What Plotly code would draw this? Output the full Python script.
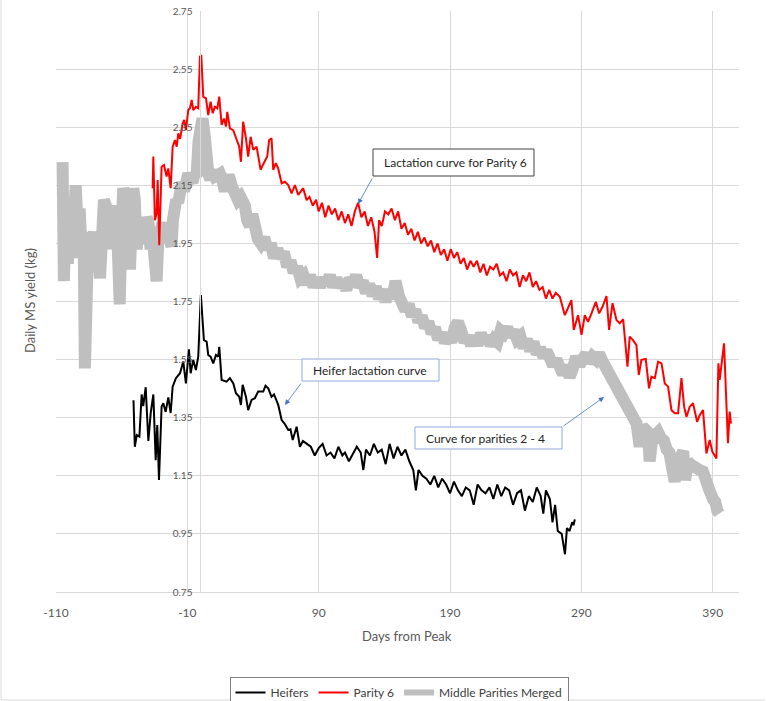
import plotly.graph_objects as go

# ---------------- data ----------------
heifer_x = [-51, -50, -48.5, -46.5, -44.8, -43.6, -41.7, -39.7, -37.9, -35.9, -34.1, -32.9, -31.6, -29.6,
            -28.3, -26.5, -24.5, -22.7, -21.2, -18.7, -15.6, -13.1, -11.1, -8.8, -7.5, -5.5, -3.5, -1.7,
            0.3, 2.6, 4.7, 5.9, 7.7, 9.7, 11.8, 13.5, 14.3, 16.1, 19.9, 22.4, 25, 27, 29.5, 30.8, 32.1,
            34.6, 36.3, 38.9, 41.4, 43.9, 47.8, 49.5, 51.6, 54.1, 56, 59.2, 61.8, 64, 66.8, 68.5, 70.2,
            73.2, 75.7, 78, 81, 84, 87, 90, 93, 96, 99, 102, 105, 108, 110, 113, 116, 119, 122, 124, 126,
            129, 132, 135, 138, 141, 144, 147, 150, 153, 156, 159, 162, 164, 166, 169, 172, 175, 178, 181,
            184, 187, 190, 193, 196, 199, 202, 205, 208, 211, 214, 217, 220, 223, 226, 229, 232, 235, 238,
            241, 244, 247, 250, 253, 256, 259, 261, 263, 266, 268, 270, 272, 275, 277.5, 279, 281, 283,
            284, 285]
heifer_y = [1.41, 1.25, 1.29, 1.285, 1.43, 1.39, 1.455, 1.27, 1.366, 1.43, 1.204, 1.325, 1.136, 1.388,
            1.40, 1.37, 1.42, 1.366, 1.457, 1.486, 1.503, 1.543, 1.468, 1.585, 1.503, 1.549, 1.514, 1.56,
            1.772, 1.617, 1.612, 1.566, 1.56, 1.537, 1.566, 1.56, 1.594, 1.48, 1.474, 1.486, 1.468, 1.434,
            1.422, 1.394, 1.463, 1.422, 1.376, 1.411, 1.417, 1.44, 1.44, 1.46, 1.451, 1.422, 1.43, 1.394,
            1.342, 1.33, 1.308, 1.31, 1.273, 1.319, 1.25, 1.27, 1.26, 1.25, 1.22, 1.245, 1.26, 1.22, 1.23,
            1.21, 1.25, 1.22, 1.23, 1.20, 1.225, 1.25, 1.23, 1.17, 1.24, 1.22, 1.26, 1.23, 1.24, 1.19, 1.26,
            1.21, 1.25, 1.22, 1.24, 1.20, 1.17, 1.10, 1.17, 1.15, 1.14, 1.12, 1.15, 1.11, 1.14, 1.12, 1.09,
            1.13, 1.10, 1.08, 1.11, 1.10, 1.05, 1.12, 1.10, 1.09, 1.11, 1.07, 1.12, 1.08, 1.11, 1.10, 1.05,
            1.09, 1.10, 1.03, 1.08, 1.06, 1.11, 1.08, 1.02, 1.10, 1.07, 0.99, 1.05, 0.96, 0.95, 0.88, 0.97,
            0.96, 0.99, 0.98, 1.00]

parity6_x = [-36.4, -35.9, -34.7, -33.4, -32.6, -31.4, -29.6, -27.8, -25.8, -24.5, -22.7, -21.2, -19.4,
             -18.1, -16.9, -15.5, -13.6, -12.4, -11.1, -9.3, -8, -6.7, -5.5, -3.5, -1.7, -0.4, 0.6, 2.1,
             4.2, 5.9, 7.7, 9.3, 11, 12.8, 14.3, 16.1, 17.9, 19.4, 20.4, 22.4, 24.9, 27.5, 29.5, 30.8,
             32.5, 34.6, 36.3, 38.2, 40.2, 42.7, 44.2, 45.8, 47.5, 49, 50.8, 52.3, 54.1, 55.4, 57.4, 59.2,
             61.8, 64.3, 66.8, 69.4, 71.9, 74.4, 76.5, 78.2, 80.8, 83, 85.5, 88, 90, 92.5, 95, 97.5, 100,
             102.5, 105, 107.5, 110, 112.5, 115, 117.5, 120, 122.5, 125, 127.5, 130, 132.5, 134.5, 136,
             138, 140.5, 143, 145.5, 148, 150.5, 153, 155.5, 158, 160.5, 163, 165.5, 168, 170.5, 173,
             175.5, 178, 180.5, 183, 185.5, 188, 190.5, 193, 195.5, 198, 200.5, 203, 205.5, 208, 210.5,
             213, 215.5, 218, 220.5, 223, 225.5, 228, 230.5, 233, 235.5, 238, 240.5, 243, 245.5, 248,
             250.5, 253, 255.5, 258, 260.5, 263, 265.5, 268, 270.5, 273.6, 277.4, 282.4, 284.2, 287.5,
             290.1, 292.6, 295.1, 297.7, 301, 303.5, 306.1, 309.1, 311.1, 313.7, 316.7, 319.2, 321.8,
             325.1, 326.8, 329.3, 331.9, 333.7, 335.7, 339, 341.5, 343.3, 345.9, 348.4, 351, 353.5, 356,
             358.6, 361.1, 363.6, 366.2, 368.2, 370, 372.5, 375, 378.1, 380.1, 382.6, 385.2, 387.7, 389.7,
             392.8, 394.3, 395.3, 398.6, 401.6, 402.9, 403.9]
parity6_y = [2.14, 2.249, 2.03, 2.054, 2.168, 1.944, 2.214, 2.22, 2.18, 2.208, 2.14, 2.283, 2.306, 2.283,
             2.329, 2.31, 2.363, 2.375, 2.34, 2.409, 2.415, 2.444, 2.409, 2.42, 2.415, 2.593, 2.598, 2.455,
             2.449, 2.392, 2.438, 2.398, 2.42, 2.415, 2.455, 2.358, 2.38, 2.352, 2.403, 2.346, 2.34, 2.306,
             2.283, 2.231, 2.369, 2.312, 2.249, 2.317, 2.272, 2.283, 2.25, 2.203, 2.22, 2.231, 2.249,
             2.306, 2.312, 2.203, 2.226, 2.208, 2.157, 2.162, 2.151, 2.122, 2.151, 2.117, 2.13, 2.14,
             2.099, 2.11, 2.08, 2.10, 2.06, 2.09, 2.04, 2.08, 2.05, 2.07, 2.03, 2.06, 2.02, 2.05, 2.01,
             2.06, 2.09, 2.04, 2.06, 2.01, 2.04, 1.99, 1.90, 2.03, 2.01, 2.06, 2.05, 2.07, 2.03, 2.06,
             2.00, 2.02, 1.98, 2.00, 1.96, 1.99, 1.95, 1.97, 1.94, 1.96, 1.92, 1.95, 1.91, 1.93, 1.89,
             1.93, 1.90, 1.92, 1.88, 1.90, 1.86, 1.89, 1.87, 1.89, 1.85, 1.88, 1.84, 1.87, 1.86, 1.88,
             1.84, 1.85, 1.82, 1.86, 1.84, 1.85, 1.80, 1.84, 1.82, 1.85, 1.80, 1.82, 1.79, 1.80, 1.76,
             1.79, 1.76, 1.78, 1.766, 1.703, 1.755, 1.652, 1.703, 1.635, 1.703, 1.68, 1.709, 1.749, 1.709,
             1.732, 1.769, 1.652, 1.744, 1.686, 1.675, 1.689, 1.526, 1.629, 1.617, 1.6, 1.497, 1.549,
             1.552, 1.451, 1.491, 1.486, 1.543, 1.537, 1.468, 1.457, 1.376, 1.365, 1.365, 1.486, 1.388,
             1.353, 1.388, 1.40, 1.336, 1.359, 1.376, 1.227, 1.273, 1.233, 1.21, 1.537, 1.48, 1.606, 1.262,
             1.371, 1.33]

middle_x = [-105, -104, -102.5, -101, -99.5, -98, -96.5, -95, -93.5, -92, -90.5, -89, -88, -87, -85.5,
            -84, -82.5, -81, -79.5, -78, -76.5, -75, -73.5, -72, -70.5, -69, -67.5, -66, -64.5, -63,
            -61.5, -60, -58.8, -57.5, -56, -54.5, -53.7, -52.5, -51.2, -50, -48.5, -47, -45.5, -44,
            -42.5, -41, -39.5, -38, -36.5, -35, -33.4, -32, -30.5, -29, -27.5, -26, -24.5, -23, -22, -21,
            -20, -18.5, -17, -15.5, -14, -12.5, -11, -9.3, -7.5, -6, -4.5, -3, -1.5, 0, 1.5, 3, 4.5, 6,
            7.5, 9, 11, 13, 14.8, 16.5, 18.5, 20.5, 22.4, 24.5, 26.5, 28.5, 30.5, 32.5, 33.8, 35.5, 37.6,
            39.5, 41.5, 43.7, 46, 48.5, 51, 53.5, 56, 58.5, 61, 63.5, 66, 68.5, 71, 73.5, 76, 78.5, 81,
            83.5, 86, 88.5, 91, 93.5, 96, 98.5, 101, 103.5, 106, 108.5, 111, 113.5, 116, 118.5, 121,
            123.5, 126, 128.5, 131, 133.5, 136, 138.5, 141, 143.5, 146, 148.5, 151, 153.5, 156, 158.5,
            161, 163.5, 166, 168.5, 171, 173.5, 176, 178.5, 181, 183.5, 186, 188.5, 191, 193.5, 196,
            198.5, 201, 203.5, 206, 208.5, 211, 213.5, 216, 218.5, 221, 223.5, 226, 228.5, 231, 233.5,
            236, 238.5, 241, 243.5, 246, 248.5, 251, 253.5, 256, 258.5, 261, 263.5, 266, 268.5, 271,
            273.5, 276, 278.5, 281, 283.5, 286, 288.5, 291, 293.5, 296, 298.5, 301, 303.5, 306.5, 309,
            311, 313, 315.4, 318, 320.5, 323, 325.5, 328, 330, 332, 334.4, 336.5, 338.5, 340.7, 342, 344,
            346, 348.4, 350.5, 353, 355, 357, 359, 361, 363, 365.5, 367.5, 369, 371, 373, 375, 377.5, 380,
            382.6, 385, 387.5, 390.2, 392, 393.5, 395]
middle_y = [2.23, 1.82, 2.05, 1.88, 2.02, 1.90, 2.04, 2.15, 2.00, 2.07, 1.92, 1.99, 1.52, 1.95, 1.96,
            1.92, 1.98, 1.99, 1.88, 1.92, 1.83, 1.97, 2.10, 2.08, 1.93, 2.03, 1.95, 2.08, 2.05, 1.94,
            1.74, 2.02, 2.14, 2.11, 1.97, 2.06, 1.86, 2.05, 2.14, 2.10, 1.93, 2.02, 1.95, 1.99, 1.96,
            2.04, 2.02, 1.93, 1.98, 1.90, 1.82, 1.97, 1.99, 2.02, 1.99, 2.00, 1.98, 1.96, 1.94, 2.03,
            2.07, 2.10, 2.09, 2.11, 2.16, 2.13, 2.18, 2.19, 2.17, 2.16, 2.19, 2.18, 2.30, 2.377, 2.38,
            2.33, 2.22, 2.19, 2.17, 2.20, 2.18, 2.19, 2.19, 2.17, 2.13, 2.17, 2.17, 2.14, 2.12, 2.10,
            2.11, 2.09, 2.08, 2.03, 2.01, 2.05, 1.99, 1.965, 1.95, 1.97, 1.93, 1.95, 1.90, 1.93, 1.90,
            1.92, 1.87, 1.89, 1.85, 1.87, 1.83, 1.84, 1.81, 1.84, 1.80, 1.83, 1.80, 1.83, 1.81, 1.84,
            1.80, 1.83, 1.80, 1.82, 1.79, 1.83, 1.81, 1.84, 1.80, 1.82, 1.78, 1.81, 1.77, 1.80, 1.76,
            1.79, 1.75, 1.79, 1.76, 1.82, 1.77, 1.74, 1.72, 1.74, 1.70, 1.72, 1.68, 1.70, 1.66, 1.68,
            1.64, 1.66, 1.62, 1.64, 1.61, 1.63, 1.61, 1.66, 1.68, 1.65, 1.61, 1.63, 1.60, 1.63, 1.60,
            1.64, 1.61, 1.63, 1.60, 1.62, 1.61, 1.65, 1.64, 1.66, 1.63, 1.65, 1.62, 1.63, 1.59, 1.62,
            1.58, 1.61, 1.57, 1.59, 1.56, 1.58, 1.55, 1.53, 1.55, 1.51, 1.50, 1.53, 1.49, 1.52, 1.56,
            1.53, 1.55, 1.57, 1.54, 1.56, 1.55, 1.57, 1.54, 1.52, 1.49, 1.47, 1.46, 1.43, 1.41, 1.40,
            1.37, 1.35, 1.34, 1.33, 1.25, 1.32, 1.31, 1.30, 1.20, 1.28, 1.30, 1.30, 1.28, 1.27, 1.24,
            1.23, 1.18, 1.13, 1.19, 1.22, 1.235, 1.135, 1.20, 1.19, 1.184, 1.17, 1.17, 1.165, 1.12, 1.10,
            1.07, 1.06, 1.03, 1.02]

x_ticks = [-110, -10, 90, 190, 290, 390]
y_ticks = [0.75, 0.95, 1.15, 1.35, 1.55, 1.75, 1.95, 2.15, 2.35, 2.55, 2.75]

# ---------------- layout geometry ----------------
W, H = 766, 701
PL, PR, PT, PB = 56, 739, 11, 592
X0, X1, Y0, Y1 = -110, 410, 0.75, 2.75


def dx(px):
    return X0 + (px - PL) / (PR - PL) * (X1 - X0)


def dy(py):
    return Y1 - (py - PT) / (PB - PT) * (Y1 - Y0)


def paper_x(px):
    return (px - PL) / (PR - PL)


def paper_y(py):
    return (PB - py) / (PB - PT)


FONT = "Lato"
TXT = "#595959"
GRID = "#D9D9D9"
GRAY = "#BFBFBF"

fig = go.Figure()
fig.add_trace(go.Scatter(x=middle_x, y=middle_y, mode="lines", name="Middle Parities Merged",
                         line=dict(color=GRAY, width=12), showlegend=False))
fig.add_trace(go.Scatter(x=parity6_x, y=parity6_y, mode="lines", name="Parity 6",
                         line=dict(color="#FF0000", width=2), legendrank=2))
fig.add_trace(go.Scatter(x=heifer_x, y=heifer_y, mode="lines", name="Heifers",
                         line=dict(color="#000000", width=2), legendrank=1))
# legend entry for the thick grey series (thinner sample line, as in the reference legend)
fig.add_trace(go.Scatter(x=[None], y=[None], mode="lines", name="Middle Parities Merged",
                         line=dict(color=GRAY, width=6), legendrank=3))

shapes = []
annotations = []

# text boxes with arrows
boxes = [
    ("Lactation curve for Parity 6", (373, 534, 149, 176), "#404040", (373, 177), (358, 204)),
    ("Heifer lactation curve", (302, 439, 359, 381), "#8FAADC", (302, 382), (285, 405)),
    ("Curve for parities 2 - 4", (415, 562, 427, 449), "#8FAADC", (562, 427), (604, 397)),
]
for text, (bx0, bx1, by0, by1), bcol, tail, head in boxes:
    shapes.append(dict(type="rect", xref="x", yref="y", x0=dx(bx0), x1=dx(bx1), y0=dy(by0), y1=dy(by1),
                       line=dict(color=bcol, width=1), fillcolor="white", layer="above"))
    annotations.append(dict(x=dx(bx0 + 9), y=dy((by0 + by1) / 2), xref="x", yref="y", text=text,
                            showarrow=False, xanchor="left", yanchor="middle",
                            font=dict(family=FONT, size=12, color="#262626")))
    annotations.append(dict(x=dx(head[0]), y=dy(head[1]), ax=dx(tail[0]), ay=dy(tail[1]),
                            xref="x", yref="y", axref="x", ayref="y", text="", showarrow=True,
                            arrowhead=2, arrowsize=1.3, arrowwidth=0.8, arrowcolor="#4472C4"))

# axis titles
annotations.append(dict(x=paper_x(30), y=paper_y(301), xref="paper", yref="paper",
                        xanchor="center", yanchor="middle",
                        text="Daily MS yield (kg)", textangle=-90, showarrow=False,
                        font=dict(family=FONT, size=13, color=TXT)))
annotations.append(dict(x=paper_x(407), y=paper_y(636), xref="paper", yref="paper",
                        xanchor="center", yanchor="middle",
                        text="Days from Peak", showarrow=False,
                        font=dict(family=FONT, size=13, color=TXT)))

# chart-area border (left and bottom visible)
shapes.append(dict(type="line", xref="paper", yref="paper", x0=paper_x(1), x1=paper_x(1),
                   y0=paper_y(0), y1=paper_y(700), line=dict(color=GRID, width=1)))
shapes.append(dict(type="line", xref="paper", yref="paper", x0=paper_x(1), x1=paper_x(765),
                   y0=paper_y(700), y1=paper_y(700), line=dict(color=GRID, width=1)))

fig.update_layout(
    width=W, height=H,
    margin=dict(l=PL, r=W - PR, t=PT, b=H - PB, autoexpand=False),
    paper_bgcolor="white", plot_bgcolor="white",
    font=dict(family=FONT, color=TXT),
    showlegend=True,
    legend=dict(orientation="h", x=paper_x(399), xanchor="center", y=paper_y(677), yanchor="top",
                bordercolor="#7F7F7F", borderwidth=1, bgcolor="white",
                font=dict(family=FONT, size=12, color="#404040"), traceorder="normal"),
    xaxis=dict(range=[X0, X1], tickmode="array", tickvals=x_ticks, ticktext=[str(v) for v in x_ticks],
               showgrid=True, gridcolor=GRID, gridwidth=1, zeroline=False, showline=True,
               linecolor=GRID, linewidth=1, ticks="", tickfont=dict(family=FONT, size=12, color=TXT),
               ticklabelstandoff=10),
    yaxis=dict(range=[Y0, Y1], tickmode="array", tickvals=y_ticks,
               ticktext=[f"{v:.2f}" for v in y_ticks], showgrid=True, gridcolor=GRID, gridwidth=1,
               zeroline=False, showline=True, linecolor=GRID, linewidth=1, ticks="",
               anchor="free", position=paper_x(PL + (0 - X0) / (X1 - X0) * (PR - PL)),
               tickfont=dict(family=FONT, size=10, color=TXT), ticklabelstandoff=6),
    shapes=shapes,
    annotations=annotations,
)

fig.write_html("out.html")
